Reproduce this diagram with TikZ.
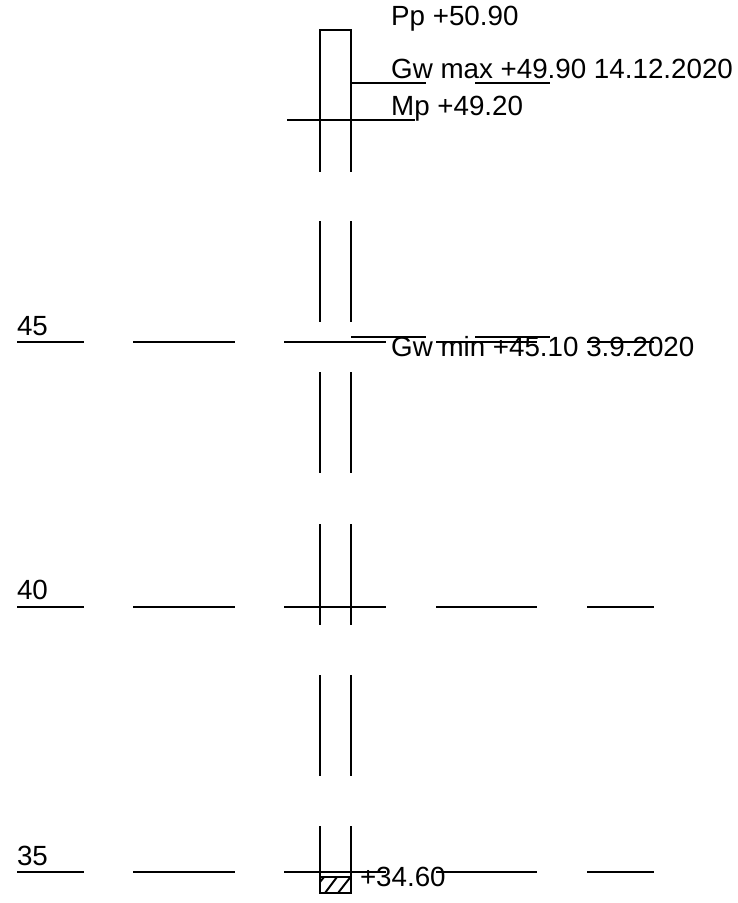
\documentclass[tikz,border=0pt]{standalone}
\usepackage{fontspec}
\setmainfont{Liberation Sans}
\tikzset{
  ln/.style={draw=black,line width=1.95pt,line cap=butt},
  lbl/.style={anchor=base west,inner sep=0pt,outer sep=0pt,text=black,font=\fontsize{27.75}{30}\selectfont},
}
\begin{document}
\begin{tikzpicture}[x=1pt,y=-1pt]
\useasboundingbox (0,0) rectangle (737,903);
% casing
\draw[ln] (320,171.5) -- (320,30) -- (351,30) -- (351,171.5);
\foreach \a/\b in {221/322,372/473,524/625,675/776,826/893}{
  \draw[ln] (320,\a) -- (320,\b);
  \draw[ln] (351,\a) -- (351,\b);
}
% scale lines
\foreach \y in {342,607,872}{
  \foreach \a/\b in {17/84,133/235,284/386,436/537,587/654}{
    \draw[ln] (\a,\y) -- (\b,\y);
  }
}
% water levels and terrain
\draw[ln] (351,83) -- (425.7,83);
\draw[ln] (475,83) -- (550,83);
\draw[ln] (287.3,120) -- (415,120);
\draw[ln] (351,337) -- (425.7,337);
\draw[ln] (475,337) -- (550,337);
% bottom hatched plug
\draw[ln] (320,877) -- (351,877);
\draw[ln] (319,893) -- (352,893);
\draw[ln] (320,882) -- (324,877);
\draw[ln] (325,893) -- (337,877);
\draw[ln] (338,893) -- (350.5,877);
% labels
\node[lbl] (pp) at (391.2,25) {Pp +50.90};
\node[lbl] (gwmax) at (391.2,78) {Gw max +49.90 14.12.2020};
\node[lbl] (mp) at (391.2,115) {Mp +49.20};
\node[lbl] (gwmin) at (391.2,356.7) {Gw min +45.10 3.9.2020};
\node[lbl] (bot) at (360,886.7) {+34.60};
\node[lbl] (l45) at (17,335) {45};
\node[lbl] (l40) at (17,599.5) {40};
\node[lbl] (l35) at (17,865) {35};
\end{tikzpicture}
\end{document}
